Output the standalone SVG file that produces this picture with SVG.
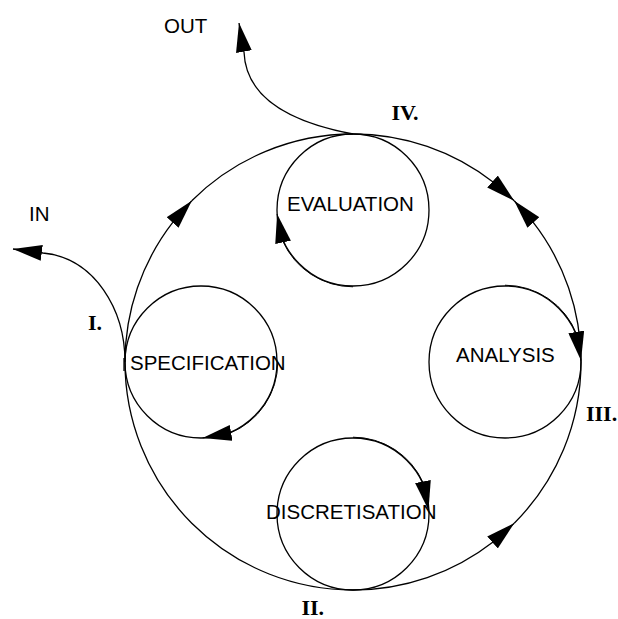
<svg xmlns="http://www.w3.org/2000/svg" width="618" height="619" viewBox="0 0 618 619">
  <defs>
    <marker id="arrow" markerUnits="userSpaceOnUse" viewBox="0 0 29 16" refX="29" refY="8" markerWidth="29" markerHeight="16" orient="auto">
      <path d="M0,0 L29,8 L0,16 Z" fill="#000"/>
    </marker>
    <style>
      .stage { fill: none; stroke: #000; stroke-width: 1.3; }
      .link { fill: none; stroke: #000; stroke-width: 1.3; }
      .loop { fill: none; stroke: #000; stroke-width: 1; }
      .head { marker-end: url(#arrow); }
      .name { font-family: "Liberation Sans", Arial, sans-serif; font-size: 20.5px; fill: #000; }
      .step { font-family: "Liberation Serif", "Times New Roman", serif; font-size: 22px; font-weight: bold; fill: #000; }
    </style>
  </defs>
  <rect width="618" height="619" fill="#fff"/>

  <!-- outer cycle, I/IN and IV/OUT connectors -->
  <g id="connectors">
    <path class="link head" d="M125,362 A228,228 0 0 1 173.33,221.63 L191.78,200.78"/>
    <path class="link" d="M191.78,200.78 A228,228 0 0 1 353,134"/>
    <path class="link head" d="M353,134 A228,228 0 0 1 493.37,182.33 L514.22,200.78"/>
    <path class="link head" d="M581,362 A228,228 0 0 0 532.67,221.63 L514.22,200.78"/>
    <path class="link head" d="M353,590 A228,228 0 0 0 493.37,541.67 L514.22,523.22"/>
    <path class="link" d="M514.22,523.22 A228,228 0 0 0 581,362"/>
    <path class="link" d="M353,590 A228,228 0 0 1 125,362"/>
    <path class="link head" d="M125,362 C125,310 95,258 43,253 L13,249"/>
    <path class="link head" d="M353,134 C305,125 246,105 244,52 L239,23"/>
    <path class="link" d="M124,358 L124,371"/>
    <text class="name" x="164" y="32.5">OUT</text>
    <text class="name" x="29" y="220.5">IN</text>
    <text class="step" x="88" y="330">I.</text>
    <text class="step" x="301.5" y="615">II.</text>
    <text class="step" x="586" y="421">III.</text>
    <text class="step" x="391.5" y="119.5">IV.</text>
  </g>

  <g id="evaluation">
    <circle class="stage" cx="353" cy="210" r="76"/>
    <path class="loop head" d="M353,286.8 A76.8,76.8 0 0 1 282.84,241.24 L277.1,214"/>
    <text class="name" x="287" y="210.5">EVALUATION</text>
  </g>

  <g id="specification">
    <circle class="stage" cx="201" cy="362" r="76"/>
    <path class="loop head" d="M277.8,362 A76.8,76.8 0 0 1 229.77,433.21 L202.6,438"/>
    <text class="name" x="130" y="370">SPECIFICATION</text>
  </g>

  <g id="analysis">
    <circle class="stage" cx="505" cy="362" r="76"/>
    <path class="loop head" d="M505,285.2 A76.8,76.8 0 0 1 576.7,334.48 L581,360.5"/>
    <text class="name" x="456" y="361.5">ANALYSIS</text>
  </g>

  <g id="discretisation">
    <circle class="stage" cx="353" cy="514" r="76"/>
    <path class="loop head" d="M353,437.2 A76.8,76.8 0 0 1 423.16,482.76 L428.5,510"/>
    <text class="name" x="266" y="518.5">DISCRETISATION</text>
  </g>
</svg>
